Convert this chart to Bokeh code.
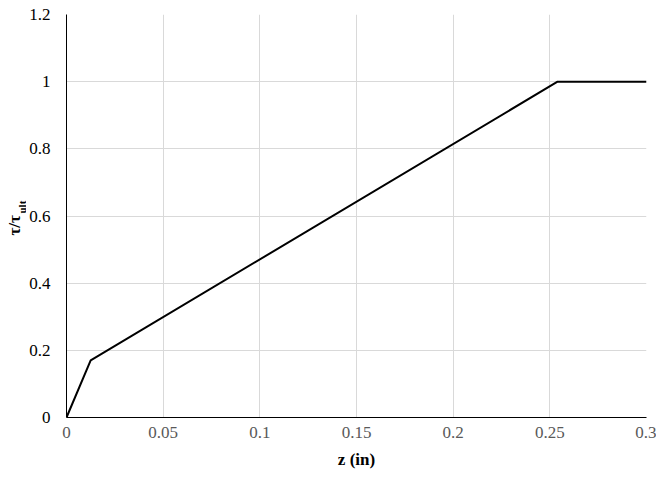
import math
from bokeh.plotting import figure
from bokeh.layouts import row
from bokeh.models import Label, FixedTicker, Range1d
from bokeh.embed import file_html
from bokeh.resources import INLINE

z_in = [0.0, 0.0125, 0.254, 0.3]
tau_ratio = [0.0, 0.17, 1.0, 1.0]
x_ticks = [0, 0.05, 0.1, 0.15, 0.2, 0.25, 0.3]
y_ticks = [0, 0.2, 0.4, 0.6, 0.8, 1.0, 1.2]

FONT = "Liberation Serif"

W, H = 656, 471
LW = 26  # width of the strip that holds the y-axis title

p = figure(width=W - LW, height=H, output_backend="svg", toolbar_location=None,
           x_range=Range1d(0, 0.3), y_range=Range1d(0, 1.2),
           min_border_left=66 - LW, min_border_right=10, min_border_top=14, min_border_bottom=53)
p.outline_line_color = None
p.background_fill_color = "white"
p.border_fill_color = "white"

p.line(z_in, tau_ratio, line_color="black", line_width=2)

p.xaxis.ticker = FixedTicker(ticks=x_ticks)
p.yaxis.ticker = FixedTicker(ticks=y_ticks)
p.xaxis.major_label_overrides = {0: "0", 0.05: "0.05", 0.1: "0.1", 0.15: "0.15", 0.2: "0.2", 0.25: "0.25", 0.3: "0.3"}
p.yaxis.major_label_overrides = {0: "0", 0.2: "0.2", 0.4: "0.4", 0.6: "0.6", 0.8: "0.8", 1.0: "1", 1.2: "1.2"}

for ax in (p.xaxis[0], p.yaxis[0]):
    ax.major_tick_out = 0
    ax.major_tick_in = 0
    ax.minor_tick_out = 0
    ax.minor_tick_in = 0
    ax.axis_line_color = "black"
    ax.axis_line_width = 1
    ax.major_label_text_font = FONT
    ax.major_label_text_font_size = "17px"

p.xaxis.major_label_text_color = "#595959"
p.yaxis.major_label_text_color = "black"
p.xaxis.major_label_standoff = 9
p.yaxis.major_label_standoff = 16

p.xaxis.axis_label = "z (in)"
p.xaxis.axis_label_text_font = FONT
p.xaxis.axis_label_text_font_size = "17px"
p.xaxis.axis_label_text_font_style = "bold"
p.xaxis.axis_label_text_color = "black"
p.xaxis.axis_label_standoff = 9

p.xgrid.grid_line_color = "#d9d9d9"
p.ygrid.grid_line_color = "#d9d9d9"

# narrow strip carrying the y-axis title tau/tau_ult
t = figure(width=LW, height=H, output_backend="svg", toolbar_location=None,
           x_range=Range1d(0, 1), y_range=Range1d(0, 1),
           min_border_left=0, min_border_right=0, min_border_top=0, min_border_bottom=0)
t.axis.visible = False
t.grid.visible = False
t.outline_line_color = None
t.border_fill_color = "white"
t.background_fill_color = "white"

lab1 = Label(x=14, y=182, x_units="screen", y_units="screen", text="τ/τ", angle=math.pi / 2,
             text_font=FONT, text_font_size="17px", text_font_style="bold",
             text_align="left", text_baseline="middle", text_color="black")
lab2 = Label(x=21, y=204, x_units="screen", y_units="screen", text="ult", angle=math.pi / 2,
             text_font=FONT, text_font_size="11px", text_font_style="bold",
             text_align="left", text_baseline="middle", text_color="black")
t.add_layout(lab1)
t.add_layout(lab2)

layout = row(t, p, spacing=0)
open("out.html", "w").write(file_html(layout, INLINE))
